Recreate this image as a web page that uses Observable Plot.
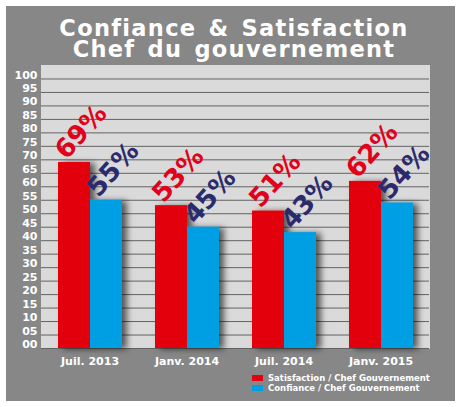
<!DOCTYPE html>
<html>
<head>
<meta charset="utf-8">
<script src="https://cdn.jsdelivr.net/npm/d3@7"></script>
<script src="https://cdn.jsdelivr.net/npm/@observablehq/plot@0.6"></script>
<style>
  body { margin: 0; background: #fff; font-family: "DejaVu Sans", sans-serif; }
  #panel { position: absolute; left: 6px; top: 6px; width: 449px; height: 395px; background: #878787; }
  #title { position: absolute; left: 0; top: 12px; width: 456px; text-align: center; color: #fff;
           font-weight: bold; font-size: 22.5px; line-height: 21px; letter-spacing: 1.3px; word-spacing: 3px; }
  #chart { position: absolute; left: 0; top: 56px; }
  #legend { position: absolute; left: 246px; top: 367px; color: #fff; font-weight: bold; font-size: 8.5px; }
  .row { display: flex; align-items: center; height: 10px; }
  .sw { display: inline-block; width: 11px; height: 6px; margin-right: 5px; }
</style>
</head>
<body>
<div id="panel">
  <div id="title">Confiance &amp; Satisfaction<br>Chef du gouvernement</div>
  <div id="chart"></div>
  <div id="legend"></div>
</div>
<script>
let periods = ["Juil. 2013", "Janv. 2014", "Juil. 2014", "Janv. 2015"];
let series = ["Satisfaction / Chef Gouvernement", "Confiance / Chef Gouvernement"];
let satisfaction = [69, 53, 51, 62];
let confiance = [55, 45, 43, 54];
let yTicks = [0, 5, 10, 15, 20, 25, 30, 35, 40, 45, 50, 55, 60, 65, 70, 75, 80, 85, 90, 95, 100];

let barColors = ["#e3000f", "#009fe3"];
let labelColors = ["#e2001a", "#2b2a6c"];
let angle = -48;

// une ligne par période et par série
let rows = periods.flatMap((p, i) => [
  { period: p, serie: series[0], value: satisfaction[i] },
  { period: p, serie: series[1], value: confiance[i] }
]);

let labelMark = (k) => Plot.text(rows.filter(d => d.serie == series[k]), {
  fx: "period",
  x: "serie",
  y: "value",
  text: d => d.value + "%",
  fill: labelColors[k],
  textAnchor: "start",
  fontSize: 26,
  fontWeight: "bold",
  dx: -8,
  dy: -2
});

let chart = Plot.plot({
  width: 449,
  height: 308,
  marginTop: 3,
  marginBottom: 22,
  marginLeft: 34,
  marginRight: 26,
  fx: { domain: periods, padding: 0, label: null },
  x: { domain: series, paddingInner: 0, paddingOuter: 0.5, axis: null },
  y: { domain: [0, 105] },
  color: { domain: series, range: barColors },
  marks: [
    Plot.frame({ fill: "#dadada", stroke: "#dadada" }),
    Plot.ruleY(yTicks, { stroke: "#626262", strokeWidth: 1 }),
    Plot.barY(rows, { fx: "period", x: "serie", y: "value", fill: "serie" }),
    labelMark(0),
    labelMark(1),
    Plot.axisY({ ticks: yTicks, tickSize: 0, tickPadding: 4, dy: -4, tickFormat: d3.format("02d"), fontSize: 11, label: null }),
    Plot.axisFx({ anchor: "bottom", tickSize: 0, tickPadding: 9, fontSize: 11, label: null })
  ],
  style: {
    background: "transparent",
    color: "#fff",
    fontFamily: "DejaVu Sans",
    fontWeight: "bold"
  }
});

let svg = d3.select(chart);

// étiquettes inclinées : on sort chaque texte des groupes imbriqués
// et on le place à plat avec translate + rotate
let layer = svg.append("g").attr("aria-label", "etiquettes");
svg.selectAll("g[aria-label='text'] text").nodes().forEach(node => {
  let x = 0, y = 0, fill = null, size = null;
  for (let n = node; n && n !== chart; n = n.parentNode) {
    let m = /translate\(([-\d.e]+)[ ,]*([-\d.e]*)\)/.exec(n.getAttribute("transform") || "");
    if (m) { x += +m[1]; y += +(m[2] || 0); }
    if (n !== node && !fill && n.getAttribute("fill")) fill = n.getAttribute("fill");
    if (n !== node && !size && n.getAttribute("font-size")) size = n.getAttribute("font-size");
  }
  if (node.getAttribute("x")) x += +node.getAttribute("x");
  let t = d3.select(node)
    .attr("x", null).attr("y", null).attr("dy", null)
    .attr("fill", fill).attr("font-size", size)
    .attr("font-weight", "bold").attr("text-anchor", "start")
    .attr("transform", `translate(${x},${y}) rotate(${angle})`);
  layer.append(() => t.node());
});

// ombre portée des barres
let f = svg.append("defs").append("filter").attr("id", "ombre")
  .attr("x", "-20%").attr("y", "-20%").attr("width", "160%").attr("height", "140%");
f.append("feDropShadow").attr("dx", 5).attr("dy", 1).attr("stdDeviation", 3)
  .attr("flood-color", "#000").attr("flood-opacity", 0.6);
svg.selectAll("g[aria-label='bar']").attr("filter", "url(#ombre)");

d3.select("#chart").append(() => chart);

let leg = d3.select("#legend").selectAll("div").data(series).join("div").attr("class", "row");
leg.append("span").attr("class", "sw").style("background", (d, i) => barColors[i]);
leg.append("span").text(d => d);
</script>
</body>
</html>
